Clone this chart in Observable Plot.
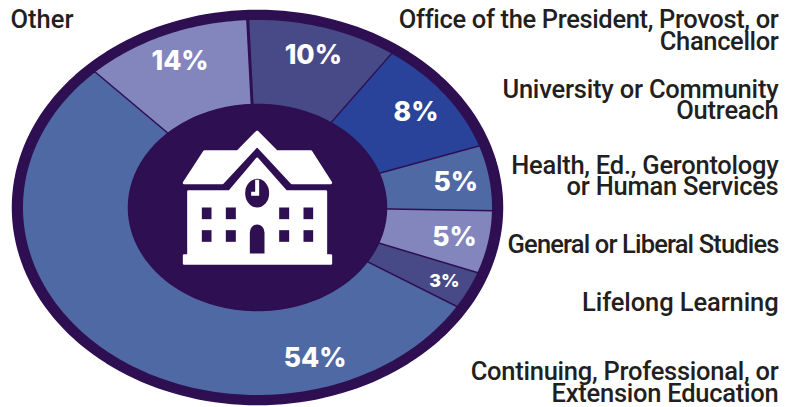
<!DOCTYPE html>
<html><head><meta charset="utf-8">
<style>html,body{margin:0;padding:0;background:#fff}svg{display:block}</style>
<script src="https://cdn.jsdelivr.net/npm/d3@7"></script>
<script src="https://cdn.jsdelivr.net/npm/@observablehq/plot@0.6"></script>
</head><body><div id="chart"></div>
<script>
// Data, clockwise from the top of the ring
const categories = ["Office of the President, Provost, or\nChancellor","University or Community\nOutreach","Health, Ed., Gerontology\nor Human Services","General or Liberal Studies","Lifelong Learning","Continuing, Professional, or\nExtension Education","Other"];
const percents = [10,8,5,5,3,54,14];
// wedge sizes as drawn in the picture (degrees), which differ a little from the printed percent
const wedgeDegrees = [37.5,36,20.1,19.3,11.5,194.4,41.2];
const firstWedgeStart = -2.4;
const wedgeColors = ["#474a86","#29429a","#4f69a5","#8385bd","#474a86","#4f69a5","#8385bd"];
const labelMiddles = [31.5,101,177,245.5,303.5,383.5,21];
const labelTracking = ["-0.35px","-0.2px","-0.25px","-0.85px","-0.1px","-0.25px","0"];

const dark="#2e0f52", ink="#231f20";
const W=795,H=407,cx=257,cy=207,rx=236,ry=189;
const pol=(deg,kx,ky)=>({x:cx+kx*Math.sin(deg*Math.PI/180),y:cy-ky*Math.cos(deg*Math.PI/180)});

// wedges
let a=firstWedgeStart; const wedges=[], mids=[];
wedgeDegrees.forEach((d,i)=>{
  const steps=Math.max(2,Math.ceil(d));
  for(let s=0;s<=steps;s++) wedges.push({i,...pol(a+d*s/steps,rx,ry)});
  wedges.push({i,x:cx,y:cy});
  mids.push(a+d/2); a+=d;
});
const ellipse=(kx,ky)=>d3.range(0,361,2).map(t=>pol(t,kx,ky));

const pctRows=percents.map((p,i)=>{
  const k=p===3?.883:p===5?.85:.84;
  const pos=p===54?pol(163,.834*rx,.834*ry):pol(mids[i],k*rx,k*ry);
  return {t:p+"%",...pos,size:p===3?18:26.5};
});
const labelRows=categories.map((c,i)=>({t:c,y:labelMiddles[i],x:c==="Other"?10:778,left:c==="Other"}));
// Plot has no letter-spacing channel, so it is set on each drawn label
const tracked=(index,scales,values,dims,ctx,next)=>{
  const g=next(index,scales,values,dims,ctx);
  g.querySelectorAll("text").forEach(t=>{const row=labelRows.find(r=>r.t.startsWith(t.textContent.slice(0,4)));if(row)t.style.letterSpacing=labelTracking[labelRows.indexOf(row)];});
  return g;
};

const icon=`<svg xmlns="http://www.w3.org/2000/svg" viewBox="90 50 462 420" width="462" height="420"><g fill="#fff" stroke="#fff" stroke-width="8" stroke-linejoin="round"><path d="M320 63L262 122H162L101 216H216L320 104L424 216H541L481 122H378Z"/><path d="M114 242H237L320 144L406 242H526V434H541V458H101V434H114Z"/></g><g fill="${dark}"><ellipse cx="320" cy="247" rx="36" ry="43"/><rect x="154" y="290" width="29" height="35"/><rect x="226" y="290" width="30" height="35"/><rect x="386" y="290" width="30" height="35"/><rect x="459" y="290" width="29" height="35"/><rect x="154" y="358" width="29" height="35"/><rect x="226" y="358" width="30" height="35"/><rect x="386" y="358" width="30" height="35"/><rect x="459" y="358" width="29" height="35"/><path d="M298 428V365A22 24 0 0 1 342 365V428Z"/></g><path d="M314 207H326V255H302V243H314Z" fill="#fff"/></svg>`;
const iconHref="data:image/svg+xml;charset=utf-8,"+encodeURIComponent(icon);
const labelStyle={x:"x",y:"y",text:"t",lineAnchor:"middle",fill:ink,fontSize:25.5,fontWeight:500,fontFamily:"Roboto",lineHeight:.85,render:tracked};

const plot=Plot.plot({
  width:W,height:H,margin:0,
  x:{domain:[0,W],range:[0,W],axis:null},
  y:{domain:[0,H],range:[0,H],axis:null},
  marks:[
    Plot.line(ellipse(rx+9,ry+8),{x:"x",y:"y",fill:dark,stroke:dark}),
    Plot.line(wedges,{x:"x",y:"y",z:"i",fill:d=>wedgeColors[d.i],stroke:dark,strokeWidth:3,strokeLinejoin:"round"}),
    Plot.line(ellipse(129,103),{x:"x",y:"y",fill:dark,stroke:dark}),
    Plot.image([{x:257,y:197}],{x:"x",y:"y",src:()=>iconHref,width:154,height:140}),
    Plot.text(pctRows,{x:"x",y:"y",text:"t",fill:"#fff",fontSize:"size",fontWeight:800,fontFamily:"Inter"}),
    Plot.text(labelRows.filter(d=>!d.left),{...labelStyle,textAnchor:"end"}),
    Plot.text(labelRows.filter(d=>d.left),{...labelStyle,textAnchor:"start"})
  ]
});
document.getElementById("chart").append(plot);
</script></body></html>
